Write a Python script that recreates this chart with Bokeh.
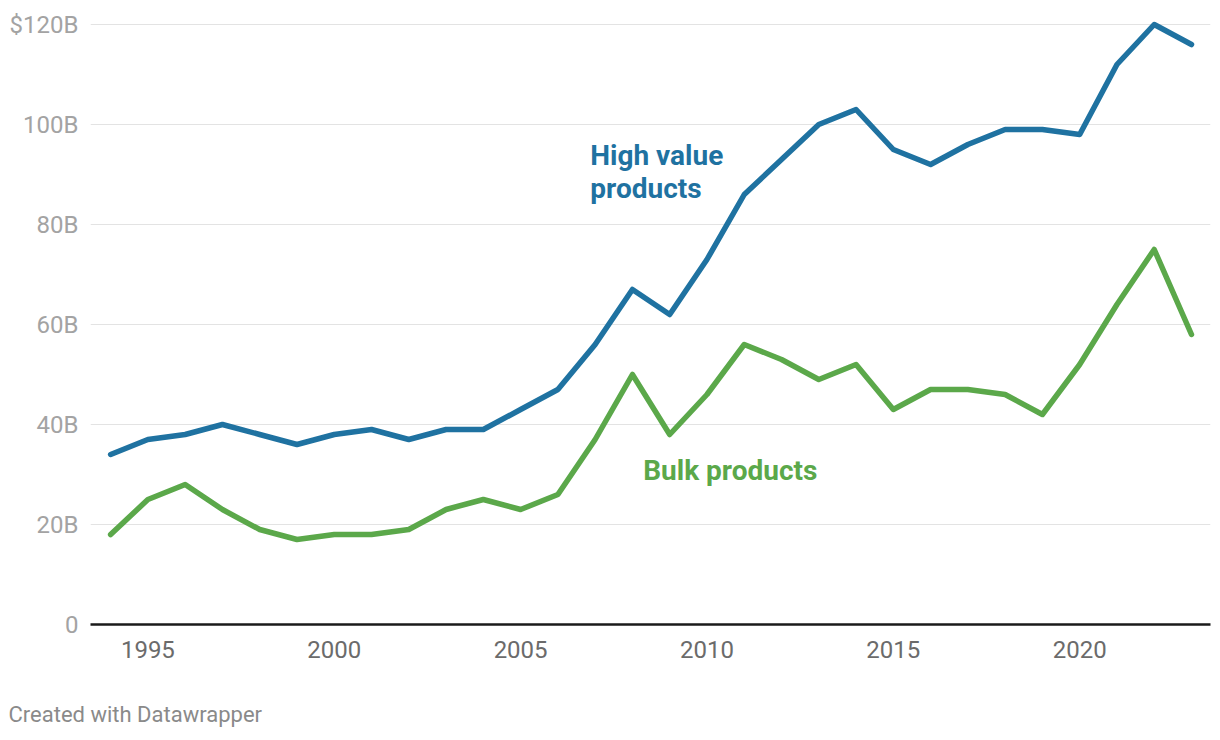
from bokeh.plotting import figure
from bokeh.models import Label, FixedTicker, Range1d, Title
from bokeh.embed import file_html
from bokeh.resources import INLINE

years = list(range(1994, 2024))
high_value = [34, 37, 38, 40, 38, 36, 38, 39, 37, 39, 39, 43, 47, 56, 67, 62, 73, 86, 93, 100,
              103, 95, 92, 96, 99, 99, 98, 112, 120, 116]
bulk = [18, 25, 28, 23, 19, 17, 18, 18, 19, 23, 25, 23, 26, 37, 50, 38, 46, 56, 53, 49,
        52, 43, 47, 47, 46, 42, 52, 64, 75, 58]
y_ticks = [0, 20, 40, 60, 80, 100, 120]
y_tick_labels = ["0", "20B", "40B", "60B", "80B", "100B", "$120B"]
x_ticks = [1995, 2000, 2005, 2010, 2015, 2020]

BLUE = "#1f72a1"
GREEN = "#5ba84a"
FONT = "Roboto"

p = figure(width=1220, height=740, output_backend="svg", toolbar_location=None,
           x_range=Range1d(1993.46, 2023.51), y_range=Range1d(0, 122))
p.min_border_left = 90
p.min_border_right = 10
p.min_border_top = 14
p.min_border_bottom = 116
p.outline_line_color = None
p.background_fill_color = "white"
p.border_fill_color = "white"

p.xgrid.grid_line_color = None
p.ygrid.grid_line_color = "#e3e3e3"
p.ygrid.grid_line_width = 1
p.ygrid.ticker = FixedTicker(ticks=y_ticks[1:])

p.yaxis.ticker = FixedTicker(ticks=y_ticks)
p.yaxis.major_label_overrides = {t: l for t, l in zip(y_ticks, y_tick_labels)}
p.yaxis.axis_line_color = None
p.yaxis.major_tick_line_color = None
p.yaxis.minor_tick_line_color = None
p.yaxis.major_label_text_font = FONT
p.yaxis.major_label_text_font_size = "24px"
p.yaxis.major_label_text_color = "#a3a3a3"
p.yaxis.major_label_standoff = 6

p.xaxis.ticker = FixedTicker(ticks=x_ticks)
p.xaxis.axis_line_color = "#1a1a1a"
p.xaxis.axis_line_width = 2.5
p.xaxis.major_tick_line_color = None
p.xaxis.minor_tick_line_color = None
p.xaxis.major_label_text_font = FONT
p.xaxis.major_label_text_font_size = "24px"
p.xaxis.major_label_text_color = "#6b6b6b"
p.xaxis.major_label_standoff = 10
p.xaxis.axis_label = " "
p.xaxis.axis_label_text_font_size = "31px"
p.xaxis.axis_label_standoff = 0

p.line(years, bulk, line_color=GREEN, line_width=5.5, line_join="round", line_cap="round")
p.line(years, high_value, line_color=BLUE, line_width=5.5, line_join="round", line_cap="round")

for txt, yy in [("High value", 93.8), ("products", 87.2)]:
    p.add_layout(Label(x=2006.87, y=yy, text=txt, text_font=FONT, text_font_style="bold",
                       text_font_size="28px", text_color=BLUE, text_baseline="middle",
                       text_align="left"))
p.add_layout(Label(x=2008.29, y=30.8, text="Bulk products", text_font=FONT, text_font_style="bold",
                   text_font_size="28px", text_color=GREEN, text_baseline="middle",
                   text_align="left"))

credit = Title(text="Created with Datawrapper", align="left", offset=-82, standoff=2,
               text_font=FONT, text_font_size="22px", text_font_style="normal",
               text_color="#8a8a8a", vertical_align="bottom")
p.add_layout(credit, "below")

open("out.html", "w").write(file_html(p, INLINE))
